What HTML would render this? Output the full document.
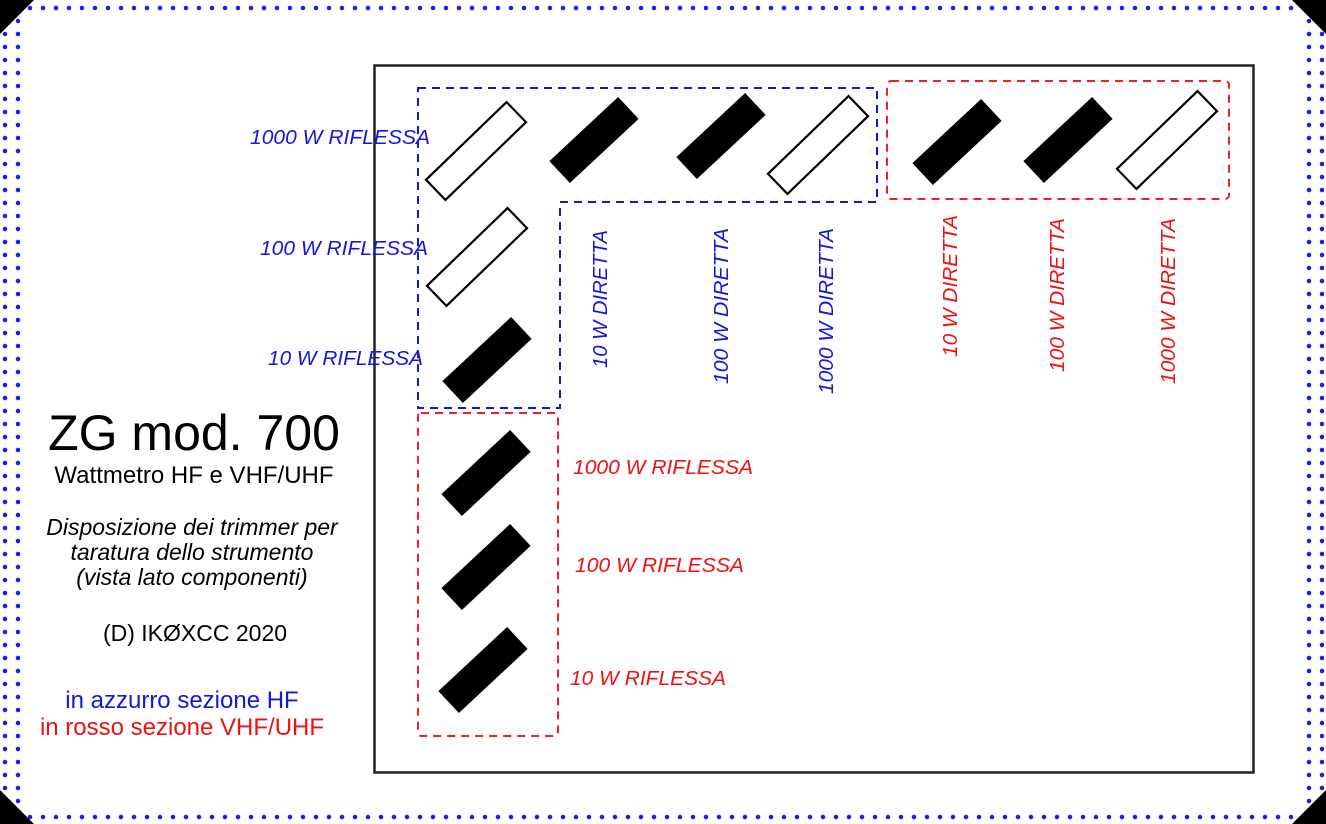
<!DOCTYPE html>
<html><head><meta charset="utf-8"><style>
html,body{margin:0;padding:0;background:#fff;}
svg{display:block;}
</style></head><body>
<svg width="1326" height="824" viewBox="0 0 1326 824" xmlns="http://www.w3.org/2000/svg">
<defs>
<g id="blk"><rect x="-47" y="-15" width="94" height="30" fill="#000"/></g>
<g id="hol"><rect x="-56" y="-14" width="112" height="28" fill="#fff" stroke="#000" stroke-width="2.2"/></g>
</defs>
<rect width="1326" height="824" fill="#fff"/>
<line x1="30" y1="8" x2="1300" y2="8" stroke="#1a1aee" stroke-width="4.5" stroke-linecap="round" stroke-dasharray="0 13"/>
<line x1="30" y1="817" x2="1300" y2="817" stroke="#1a1aee" stroke-width="4.5" stroke-linecap="round" stroke-dasharray="0 13"/>
<line x1="5" y1="34" x2="5" y2="810" stroke="#1a1aee" stroke-width="4.5" stroke-linecap="round" stroke-dasharray="0 13"/>
<line x1="18" y1="21" x2="18" y2="810" stroke="#1a1aee" stroke-width="4.5" stroke-linecap="round" stroke-dasharray="0 13"/>
<line x1="1309" y1="21" x2="1309" y2="805" stroke="#1a1aee" stroke-width="4.5" stroke-linecap="round" stroke-dasharray="0 13"/>
<line x1="1322" y1="34" x2="1322" y2="792" stroke="#1a1aee" stroke-width="4.5" stroke-linecap="round" stroke-dasharray="0 13"/>
<polygon points="0,0 34,0 0,34" fill="#000"/>
<polygon points="1326,0 1292,0 1326,34" fill="#000"/>
<polygon points="0,824 34,824 0,790" fill="#000"/>
<polygon points="1326,824 1292,824 1326,790" fill="#000"/>
<rect x="374.5" y="65.5" width="879" height="707" fill="none" stroke="#222" stroke-width="2.5"/>
<path d="M418,88 H877 V202 H560 V408 H418 Z" fill="none" stroke="#1515dd" stroke-width="2" stroke-dasharray="8 6"/>
<rect x="887" y="81" width="342" height="118" rx="4" fill="none" stroke="#ee2222" stroke-width="2" stroke-dasharray="8 6"/>
<rect x="418" y="413" width="140" height="323" rx="3" fill="none" stroke="#ee2222" stroke-width="2" stroke-dasharray="8 6"/>
<use href="#hol" transform="translate(476,151) rotate(-44)"/>
<use href="#blk" transform="translate(594,140) rotate(-43)"/>
<use href="#blk" transform="translate(721,136) rotate(-43)"/>
<use href="#hol" transform="translate(818,145) rotate(-44)"/>
<use href="#blk" transform="translate(957,142) rotate(-43)"/>
<use href="#blk" transform="translate(1068,140) rotate(-43)"/>
<use href="#hol" transform="translate(1167,140) rotate(-44)"/>
<use href="#hol" transform="translate(477,257) rotate(-44)"/>
<use href="#blk" transform="translate(487,360) rotate(-43)"/>
<use href="#blk" transform="translate(486,473) rotate(-43)"/>
<use href="#blk" transform="translate(486,567) rotate(-43)"/>
<use href="#blk" transform="translate(483,670) rotate(-43)"/>
<g font-family="Liberation Sans, sans-serif" font-style="italic" font-size="20">
<g fill="#1515dd">
<text x="250" y="144" textLength="180" lengthAdjust="spacingAndGlyphs">1000 W RIFLESSA</text>
<text x="260" y="255" textLength="168" lengthAdjust="spacingAndGlyphs">100 W RIFLESSA</text>
<text x="268" y="365" textLength="155" lengthAdjust="spacingAndGlyphs">10 W RIFLESSA</text>
<text transform="translate(607,368) rotate(-90)" textLength="138" lengthAdjust="spacingAndGlyphs">10 W DIRETTA</text>
<text transform="translate(728,384) rotate(-90)" textLength="156" lengthAdjust="spacingAndGlyphs">100 W DIRETTA</text>
<text transform="translate(833,394) rotate(-90)" textLength="166" lengthAdjust="spacingAndGlyphs">1000 W DIRETTA</text>
</g>
<g fill="#ee1111">
<text x="573" y="474" textLength="180" lengthAdjust="spacingAndGlyphs">1000 W RIFLESSA</text>
<text x="575" y="572" textLength="169" lengthAdjust="spacingAndGlyphs">100 W RIFLESSA</text>
<text x="570" y="685" textLength="156" lengthAdjust="spacingAndGlyphs">10 W RIFLESSA</text>
<text transform="translate(957,357) rotate(-90)" textLength="142" lengthAdjust="spacingAndGlyphs">10 W DIRETTA</text>
<text transform="translate(1064,372) rotate(-90)" textLength="154" lengthAdjust="spacingAndGlyphs">100 W DIRETTA</text>
<text transform="translate(1175,384) rotate(-90)" textLength="166" lengthAdjust="spacingAndGlyphs">1000 W DIRETTA</text>
</g>
</g>
<g font-family="Liberation Sans, sans-serif" text-anchor="middle" fill="#000">
<text x="194" y="450" font-size="50">ZG mod. 700</text>
<text x="194" y="483" font-size="24">Wattmetro HF e VHF/UHF</text>
<text x="192" y="535" font-size="23" font-style="italic">Disposizione dei trimmer per</text>
<text x="192" y="560" font-size="23" font-style="italic">taratura dello strumento</text>
<text x="192" y="585" font-size="23" font-style="italic">(vista lato componenti)</text>
<text x="195" y="641" font-size="23">(D) IKØXCC 2020</text>
<text x="182" y="708" font-size="24" fill="#1515dd">in azzurro sezione HF</text>
<text x="182" y="735" font-size="24" fill="#ee1111">in rosso sezione VHF/UHF</text>
</g>
</svg>
</body></html>
